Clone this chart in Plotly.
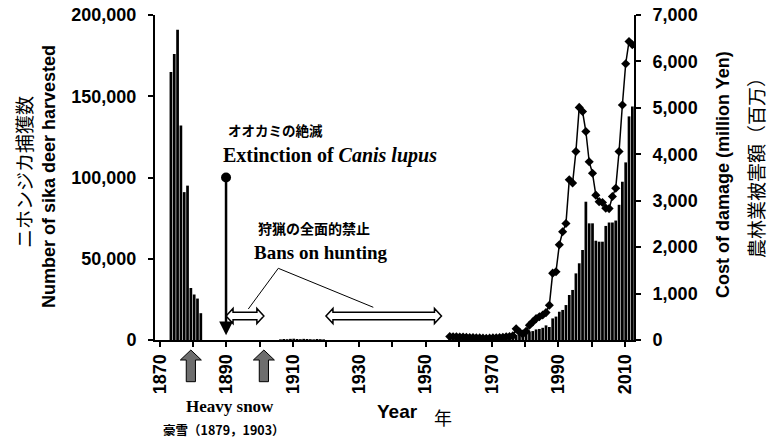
import plotly.graph_objects as go

# ---------------- data ----------------
harvest_years = (list(range(1873, 1883)) + list(range(1906, 1920)) + list(range(1957, 2013)))
harvest = [
    # 1873-1882
    165000, 176000, 191000, 132000, 91000, 95000, 32000, 28000, 25500, 16500,
    # 1906-1919
    400, 600, 500, 700, 800, 600, 500, 700, 600, 500, 400, 600, 500, 400,
    # 1957-1978
    1200, 1300, 1500, 1400, 1600, 1500, 1700, 1800, 1600, 1700, 1900,
    2000, 2100, 2200, 2000, 2300, 2500, 2600, 2800, 3000, 3000, 5500,
    # 1979-2012
    4000, 4000, 5000, 5500, 6500, 6800, 7500, 9000, 8000,
    13300, 14400, 17400, 18500, 21500, 27700, 30800, 41000, 47200, 55400,
    85100, 71800, 71800, 61100, 60500, 60500, 70200, 72300, 72300, 73500,
    83200, 97400, 109300, 137600, 143700,
]

damage_years = list(range(1957, 2013))
damage = [
    75, 70, 70, 65, 65, 60, 55, 55, 50, 45, 40, 35, 40, 45, 50, 55, 60, 70, 75, 90,
    240, 170, 130, 190, 320, 390, 460, 500, 540, 590,
    750, 1440, 1470, 2050, 2330, 2510, 3450, 3380, 4060, 5010,
    4920, 4490, 3840, 3590, 3120, 2980, 2960, 2840, 2830, 3090,
    3270, 4060, 5060, 5950, 6430, 6360,
]

tick_years = list(range(1870, 2011, 10))
tick_labels = [str(y) if (y - 1870) % 20 == 0 else "" for y in tick_years]

wolf_extinction_year = 1889.6
wolf_marker_value = 100000
ban_periods = [(1889.6, 1901.0), (1919.7, 1954.5)]
snow_arrow_years = [1879, 1901]

# ---------------- geometry helpers ----------------
W, H = 776, 443
L, R, T, B = 155, 142, 15, 103
PW, PH = W - L - R, H - T - B
X0, X1 = 1868.2, 2012.5
YMAX1, YMAX2 = 200000, 7000
TICK_SHIFT = -0.3


def px_x(px):
    return (px - L) / PW


def px_y(py):
    return (H - B - py) / PH


def yrs_per_px():
    return (X1 - X0) / PW


SANS = "Liberation Sans, Arial, sans-serif"
SERIF = "Liberation Serif, Times New Roman, serif"
JP = "Noto Sans CJK JP, sans-serif"

fig = go.Figure()
fig.add_trace(go.Bar(x=harvest_years, y=harvest, marker=dict(color="black", line=dict(width=0)),
                     showlegend=False, yaxis="y"))
fig.add_trace(go.Scatter(x=damage_years, y=damage, mode="lines+markers", yaxis="y2",
                         line=dict(color="black", width=1.5),
                         marker=dict(symbol="diamond", size=7, color="black"), showlegend=False))
fig.add_trace(go.Scatter(x=[wolf_extinction_year], y=[wolf_marker_value], mode="markers",
                         marker=dict(symbol="circle", size=10, color="black"), showlegend=False,
                         cliponaxis=False))

axis_common = dict(showline=True, linecolor="black", linewidth=2, ticks="outside", ticklen=5,
                   tickwidth=2, tickcolor="black", showgrid=False, zeroline=False,
                   tickfont=dict(family=SANS, size=18, color="black", weight="bold"))

fig.update_layout(
    width=W, height=H, margin=dict(l=L, r=R, t=T, b=B, autoexpand=False),
    paper_bgcolor="white", plot_bgcolor="white", bargap=0.18, showlegend=False,
    hovermode=False,
    xaxis=dict(range=[X0, X1], tickvals=[y + TICK_SHIFT for y in tick_years], ticktext=tick_labels,
               tickangle=-90, automargin=False, **axis_common),
    yaxis=dict(range=[0, YMAX1], tickvals=list(range(0, 200001, 50000)), tickformat=",",
               automargin=False, ticklabelstandoff=8, **axis_common),
    yaxis2=dict(range=[0, YMAX2], overlaying="y", side="right", tickvals=list(range(0, 7001, 1000)),
                tickformat=",", automargin=False, ticklabelstandoff=8, **axis_common),
)

shapes = []
# hollow double-headed arrows for hunting bans
ym, yt, yst, ysb, yb = px_y(316), px_y(308.5), px_y(312.3), px_y(319.7), px_y(323.5)
hl = 7 * yrs_per_px()
for a, b in ban_periods:
    path = (f"M {a},{ym} L {a+hl},{yt} L {a+hl},{yst} L {b-hl},{yst} L {b-hl},{yt} L {b},{ym} "
            f"L {b-hl},{yb} L {b-hl},{ysb} L {a+hl},{ysb} L {a+hl},{yb} Z")
    shapes.append(dict(type="path", path=path, xref="x", yref="paper", fillcolor="white",
                       line=dict(color="black", width=1.5), layer="above"))
# leader lines
apex = (px_x(278.3), px_y(268.3))
for ex, ey in [(248.3, 309.0), (373.3, 307.3)]:
    shapes.append(dict(type="line", xref="paper", yref="paper", x0=apex[0], y0=apex[1],
                       x1=px_x(ex), y1=px_y(ey), line=dict(color="black", width=1)))
# heavy snow up arrows (below the axis)
tip, base, bot = px_y(350), px_y(360), px_y(381.7)
hw, sw = 10.5 * yrs_per_px(), 4.6 * yrs_per_px()
for yr in snow_arrow_years:
    path = (f"M {yr},{tip} L {yr+hw},{base} L {yr+sw},{base} L {yr+sw},{bot} L {yr-sw},{bot} "
            f"L {yr-sw},{base} L {yr-hw},{base} Z")
    shapes.append(dict(type="path", path=path, xref="x", yref="paper", fillcolor="#6e6e6e",
                       line=dict(color="black", width=1), layer="above"))
fig.update_layout(shapes=shapes)

ann = []
# wolf arrow
ann.append(dict(x=wolf_extinction_year, y=3000, ax=wolf_extinction_year, ay=wolf_marker_value,
                xref="x", yref="y", axref="x", ayref="y", text="", showarrow=True,
                arrowhead=2, arrowsize=1.1, arrowwidth=2.5, arrowcolor="black"))


def txt(text, px, py, size, family, angle=0, weight="normal"):
    ann.append(dict(text=text, x=px_x(px), y=px_y(py), xref="paper", yref="paper",
                    xanchor="center", yanchor="middle", showarrow=False, textangle=angle,
                    font=dict(family=family, size=size, color="black", weight=weight)))


txt("ニホンジカ捕獲数", 23, 172, 19, JP, -90)
txt("<b>Number of sika deer harvested</b>", 49, 177, 18, SANS, -90)
txt("<b>Cost of damage (million Yen)</b>", 723, 175, 18, SANS, -90)
txt("農林業被害額（百万）", 755, 163, 19, JP, -90)
txt("オオカミの絶滅", 275, 130, 13.5, JP, weight="bold")
txt("<b>Extinction of <i>Canis lupus</i></b>", 330, 155, 20, SERIF)
txt("狩猟の全面的禁止", 314, 228, 14, JP, weight="bold")
txt("<b>Bans on hunting</b>", 321, 252, 19, SERIF)
txt("<b>Heavy snow</b>", 230, 406, 17, SERIF)
txt("豪雪（1879，1903）", 224, 430, 12.5, JP, weight="bold")
txt("<b>Year</b>", 397, 411, 19, SANS)
txt("年", 443, 417, 18, JP)
fig.update_layout(annotations=ann)

fig.write_html("out.html", config={"displayModeBar": False, "staticPlot": True},
               post_script="document.body.style.margin='0';document.body.style.overflow='hidden';")
